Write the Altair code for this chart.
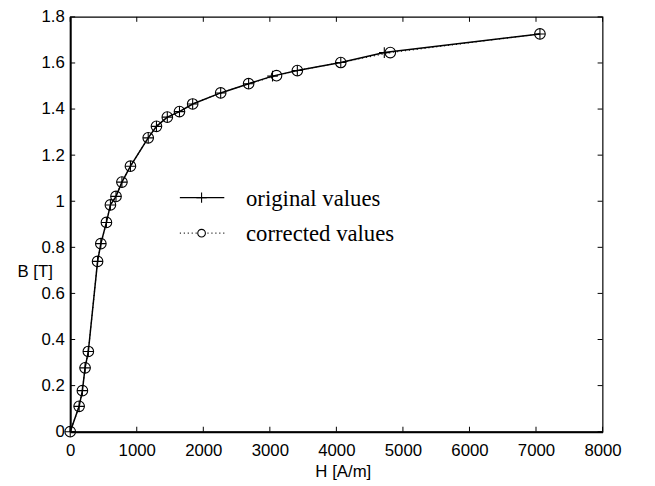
import altair as alt
import pandas as pd

# ---- data ----
H_orig = [0, 134, 183, 223, 272, 411, 460, 544, 604, 688, 777, 905, 1172, 1296,
          1459, 1642, 1840, 2261, 2681, 3040, 3413, 4066, 4720, 7059]
B_orig = [0, 0.110, 0.178, 0.277, 0.348, 0.739, 0.816, 0.908, 0.984, 1.021, 1.083,
          1.152, 1.275, 1.325, 1.365, 1.389, 1.422, 1.470, 1.510, 1.543, 1.567,
          1.602, 1.645, 1.726]
H_corr = [0, 134, 183, 223, 272, 411, 460, 544, 604, 688, 777, 905, 1172, 1296,
          1459, 1642, 1840, 2261, 2681, 3100, 3413, 4066, 4810, 7059]
B_corr = [0, 0.110, 0.178, 0.277, 0.348, 0.739, 0.816, 0.908, 0.984, 1.021, 1.083,
          1.152, 1.275, 1.325, 1.365, 1.389, 1.422, 1.470, 1.510, 1.545, 1.567,
          1.602, 1.645, 1.726]
x_ticks = [0, 1000, 2000, 3000, 4000, 5000, 6000, 7000, 8000]
y_ticks = [0, 0.2, 0.4, 0.6, 0.8, 1.0, 1.2, 1.4, 1.6, 1.8]
legend_labels = ["original values", "corrected values"]
x_title = "H [A/m]"
y_title = "B [T]"

W, HT = 539, 420
TOP = 6
PLUS = "M-1,0L1,0M0,-1L0,1"
SANS = "Liberation Sans"
SERIF = "Liberation Serif"

orig = pd.DataFrame({"H": H_orig, "B": B_orig, "i": list(range(len(H_orig)))})
corr = pd.DataFrame({"H": H_corr, "B": B_corr, "i": list(range(len(H_corr)))})

xscale = alt.Scale(domain=[0, 8000], nice=False, zero=False)
yscale = alt.Scale(domain=[0, 1.8], nice=False, zero=False)

xaxis = alt.Axis(values=x_ticks, format="d", title=x_title, ticks=False, tickSize=0,
                 grid=False, domainColor="black", domainWidth=2,
                 labelFont=SANS, labelFontSize=17, labelColor="black", labelPadding=11,
                 labelFlush=False, labelOverlap=False,
                 titleFont=SANS, titleFontSize=17, titleFontWeight="normal",
                 titleColor="black", titleX=276, titleY=45, titleAlign="center",
                 titleBaseline="alphabetic")
yaxis = alt.Axis(values=y_ticks, format="~g", title=y_title, ticks=False, tickSize=0,
                 grid=False, domainColor="black", domainWidth=2,
                 labelFont=SANS, labelFontSize=17, labelColor="black", labelPadding=6,
                 labelFlush=False, labelOverlap=False,
                 titleFont=SANS, titleFontSize=17, titleFontWeight="normal",
                 titleColor="black", titleAngle=0, titleX=-18, titleY=258,
                 titleAlign="right", titleBaseline="middle")

X = alt.X("H:Q", scale=xscale, axis=xaxis)
Y = alt.Y("B:Q", scale=yscale, axis=yaxis)

base_c = alt.Chart(corr).encode(x=X, y=Y, order="i:Q")
base_o = alt.Chart(orig).encode(x=X, y=Y, order="i:Q")

line_c = base_c.mark_line(color="black", strokeWidth=1.2, strokeDash=[1, 3])
line_o = base_o.mark_line(color="black", strokeWidth=1.5)
pts_c = base_c.mark_point(shape="circle", size=115, filled=False, color="black",
                          strokeWidth=1.1, opacity=1)
pts_o = base_o.mark_point(shape=PLUS, size=115, filled=False, color="black",
                          strokeWidth=1.1, opacity=1)

# inward ticks (box style)
xt = pd.DataFrame({"H": x_ticks})
yt = pd.DataFrame({"B": y_ticks})
t_bottom = alt.Chart(xt).mark_rule(color="black", strokeWidth=1).encode(
    x=X, y=alt.value(HT), y2=alt.value(HT - 5))
t_top = alt.Chart(xt).mark_rule(color="black", strokeWidth=1).encode(
    x=X, y=alt.value(0), y2=alt.value(5))
t_left = alt.Chart(yt).mark_rule(color="black", strokeWidth=1).encode(
    y=Y, x=alt.value(0), x2=alt.value(5))
t_right = alt.Chart(yt).mark_rule(color="black", strokeWidth=1).encode(
    y=Y, x=alt.value(W), x2=alt.value(W - 5))

# manual legend
r1, r2 = 183, 219
one = pd.DataFrame({"a": [0]})
l1_line = alt.Chart(one).mark_rule(color="black", strokeWidth=1.5).encode(
    x=alt.value(111), x2=alt.value(156), y=alt.value(r1))
l1_pt = alt.Chart(one).mark_point(shape=PLUS, size=110, filled=False, color="black",
                                  strokeWidth=1.1, opacity=1).encode(
    x=alt.value(133), y=alt.value(r1))
l1_txt = alt.Chart(pd.DataFrame({"t": [legend_labels[0]]})).mark_text(
    font=SERIF, fontSize=23, align="left", baseline="middle", color="black").encode(
    x=alt.value(178), y=alt.value(r1 + 1), text="t:N")
l2_line = alt.Chart(one).mark_rule(color="black", strokeWidth=1.2, strokeDash=[1, 3]).encode(
    x=alt.value(111), x2=alt.value(156), y=alt.value(r2))
l2_pt = alt.Chart(one).mark_point(shape="circle", size=60, filled=True, fill="white",
                                  stroke="black", strokeWidth=1.1, opacity=1).encode(
    x=alt.value(133), y=alt.value(r2))
l2_txt = alt.Chart(pd.DataFrame({"t": [legend_labels[1]]})).mark_text(
    font=SERIF, fontSize=23, align="left", baseline="middle", color="black").encode(
    x=alt.value(178), y=alt.value(r2 + 1), text="t:N")

chart = alt.layer(
    t_bottom, t_top, t_left, t_right,
    line_c, line_o, pts_c, pts_o,
    l1_line, l1_pt, l1_txt, l2_line, l2_pt, l2_txt,
).properties(
    width=W, height=HT,
    autosize=alt.AutoSizeParams(type="none"),
    padding={"left": 63, "top": TOP, "right": 45, "bottom": 52},
    background="white",
).configure_view(stroke="black", strokeWidth=1.2)

chart.save("out.html", embed_options={"renderer": "svg", "actions": False})
